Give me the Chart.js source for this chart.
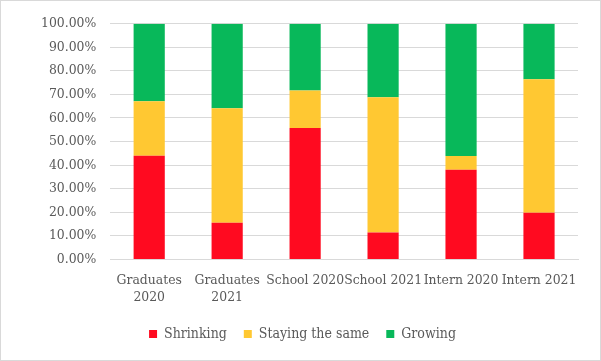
<!DOCTYPE html>
<html>
<head>
<meta charset="utf-8">
<script src="https://cdn.jsdelivr.net/npm/chart.js@4"></script>
<style>
  html, body { margin: 0; padding: 0; background: #fff; }
  #wrap { width: 601px; height: 361px; box-sizing: border-box; border: 1px solid #d9d9d9; background: #fff; }
  #chart { display: block; }
</style>
</head>
<body>
<div id="wrap"><canvas id="chart" width="599" height="359"></canvas></div>
<script>
// Data (percent of respondents)
var categories = [['Graduates', '2020'], ['Graduates', '2021'], 'School 2020', 'School 2021', 'Intern 2020', 'Intern 2021'];
var shrinking = [44, 15.6, 55.7, 11.4, 38, 19.8];
var stayingSame = [23.1, 48.5, 16, 57.4, 5.9, 56.6];
var growing = [32.9, 35.9, 28.3, 31.2, 56.1, 23.6];
var yTicks = [0, 10, 20, 30, 40, 50, 60, 70, 80, 90, 100];

var TEXT = '#595959';
var GRID = '#d9d9d9';
var FAMILY = '"DejaVu Serif Condensed", serif';
var FONT = { family: FAMILY, size: 13.8, lineHeight: 1.25 };

function barSet(label, data, color) {
  return {
    label: label, data: data, backgroundColor: color, borderWidth: 0,
    barPercentage: 0.4, categoryPercentage: 1
  };
}

var ctx = document.getElementById('chart').getContext('2d');
new Chart(ctx, {
  type: 'bar',
  data: {
    labels: categories,
    datasets: [
      barSet('Shrinking', shrinking, '#ff0a20'),
      barSet('Staying the same', stayingSame, '#ffc832'),
      barSet('Growing', growing, '#08b85a')
    ]
  },
  options: {
    responsive: false, animation: false,
    layout: { padding: { left: 26, right: 22, top: 14, bottom: 9 } },
    plugins: {
      tooltip: { enabled: false },
      legend: {
        position: 'bottom',
        labels: { boxWidth: 8, boxHeight: 8, padding: 17, color: TEXT, font: { family: FAMILY, size: 14, lineHeight: 0.7 } }
      }
    },
    scales: {
      x: {
        stacked: true,
        grid: { display: false },
        border: { color: GRID },
        ticks: { color: TEXT, font: FONT, maxRotation: 0, autoSkip: false, padding: 4 }
      },
      y: {
        stacked: true, min: 0, max: 100,
        afterBuildTicks: function(axis) { axis.ticks = yTicks.map(function(v) { return { value: v }; }); },
        grid: { color: GRID, drawTicks: false },
        border: { display: false },
        ticks: { color: TEXT, font: FONT, padding: 14, callback: function(v) { return v.toFixed(2) + '%'; } }
      }
    }
  }
});
</script>
</body>
</html>
